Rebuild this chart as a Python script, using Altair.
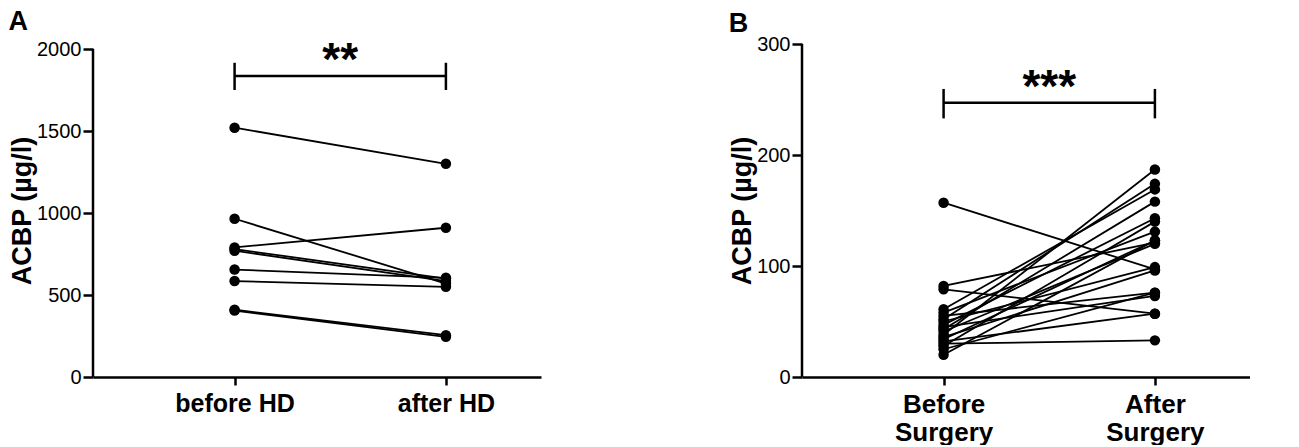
import altair as alt
import pandas as pd

FONT = "Liberation Sans, Arial, Helvetica, sans-serif"

# ---- Panel A: haemodialysis ----
a_labels = ["before HD", "after HD"]
a_before = [1520, 965, 790, 780, 770, 655, 585, 410, 405]
a_after = [1300, 570, 910, 600, 585, 605, 550, 255, 245]
a_ticks = [0, 500, 1000, 1500, 2000]
a_bracket = [1835, 1750, 1916]  # bar level, tick bottom, tick top
a_stars = "**"

# ---- Panel B: surgery ----
b_labels = [["Before", "Surgery"], ["After", "Surgery"]]
b_before = [157, 82, 79, 61, 58, 55, 52, 50, 47, 45, 43, 41, 38, 36, 34, 32, 30, 28, 25, 20]
b_after = [97, 121, 57, 169, 131, 76, 174, 99, 143, 73, 158, 120, 187, 96, 123, 57, 33, 140, 76, 123]
b_ticks = [0, 100, 200, 300]
b_bracket = [247, 233, 259.5]
b_stars = "***"


def long_df(before, after):
    rows = []
    for i, (b, a) in enumerate(zip(before, after)):
        rows.append({"subject": i, "t": 0, "v": b})
        rows.append({"subject": i, "t": 1, "v": a})
    return pd.DataFrame(rows)


def panel(letter, before, after, labels, ticks, ydom, bracket, stars, height, toff, xfs):
    df = long_df(before, after)
    xscale = alt.Scale(domain=[-0.67, 1.45], nice=False, zero=False)
    yscale = alt.Scale(domain=[0, ydom], nice=False, zero=True)
    if isinstance(labels[0], list):
        lexpr = "datum.value == 0 ? %s : %s" % (str(labels[0]), str(labels[1]))
    else:
        lexpr = "datum.value == 0 ? '%s' : '%s'" % (labels[0], labels[1])
    x = alt.X(
        "t:Q",
        scale=xscale,
        axis=alt.Axis(
            values=[0, 1],
            labelExpr=lexpr,
            title=None,
            grid=False,
            labelFontSize=xfs,
            labelFontWeight="bold",
            tickSize=8,
            labelPadding=6,
            labelLineHeight=28,
            labelBaseline="top",
        ),
    )
    y = alt.Y(
        "v:Q",
        scale=yscale,
        axis=alt.Axis(
            values=ticks,
            format="d",
            title="ACBP (µg/l)",
            grid=False,
            domain=False,
            titlePadding=0,
            labelPadding=2,
        ),
    )
    lines = alt.Chart(df).mark_line(color="black", strokeWidth=1.8).encode(
        x=x, y=y, detail="subject:N", order="t:Q"
    )
    pts = alt.Chart(df).mark_circle(color="black", size=110, opacity=1).encode(x=x, y=y)

    axis_line = alt.Chart(pd.DataFrame({"y0": [0], "y1": [ticks[-1]]})).mark_rule(
        color="black", strokeWidth=2.5
    ).encode(x=alt.value(0), y=alt.Y("y0:Q", scale=yscale), y2="y1:Q")

    bar = alt.Chart(pd.DataFrame({"x0": [0], "x1": [1], "y": [bracket[0]]})).mark_rule(
        color="black", strokeWidth=2.5
    ).encode(x=alt.X("x0:Q", scale=xscale), x2="x1:Q", y=alt.Y("y:Q", scale=yscale))
    ends = alt.Chart(
        pd.DataFrame({"x": [0, 1], "y0": [bracket[1]] * 2, "y1": [bracket[2]] * 2})
    ).mark_rule(color="black", strokeWidth=2.5).encode(
        x=alt.X("x:Q", scale=xscale), y=alt.Y("y0:Q", scale=yscale), y2="y1:Q"
    )
    star = alt.Chart(pd.DataFrame({"x": [0.5], "y": [bracket[0]], "s": [stars]})).mark_text(
        font=FONT, fontSize=46, fontWeight="bold", color="black", baseline="alphabetic", dy=-1
    ).encode(x=alt.X("x:Q", scale=xscale), y=alt.Y("y:Q", scale=yscale), text="s:N")

    return alt.layer(axis_line, lines, pts, bar, ends, star).properties(
        width=448,
        height=height,
        title=alt.TitleParams(
            letter, anchor="start", frame="bounds", fontSize=27, fontWeight="bold",
            font=FONT, color="black", offset=toff,
        ),
    )


pA = panel("A", a_before, a_after, a_labels, a_ticks, 2000 * 333 / 328, a_bracket, a_stars, 333, 2, 25)
pB = panel("B", b_before, b_after, b_labels, b_ticks, 300, b_bracket, b_stars, 333, -4, 26)

chart = (
    alt.hconcat(pA, pB, spacing=187)
    .properties(padding={"left": 0, "top": 0, "right": 0, "bottom": 0})
    .configure_view(stroke=None)
    .configure_axis(
        labelFont=FONT,
        titleFont=FONT,
        labelFontSize=20,
        labelColor="black",
        titleFontSize=27,
        titleFontWeight="bold",
        titleColor="black",
        domainColor="black",
        domainWidth=2.5,
        tickColor="black",
        tickWidth=2.5,
        tickSize=10,
    )
)

chart.save("out.html", embed_options={"renderer": "svg", "actions": False})
